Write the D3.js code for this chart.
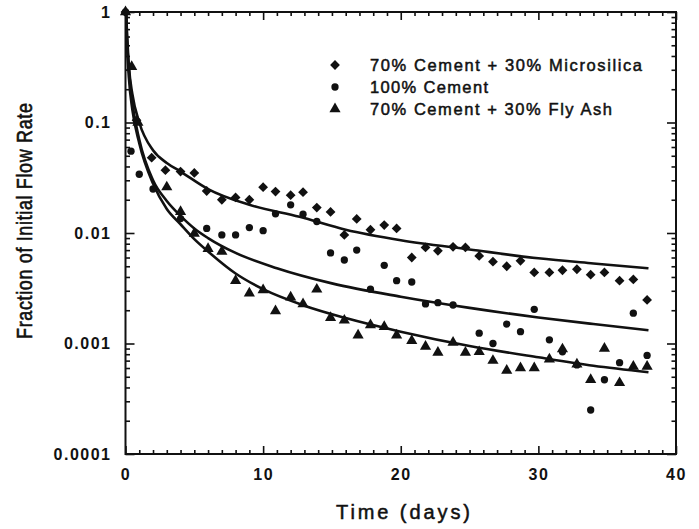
<!DOCTYPE html>
<html>
<head>
<meta charset="utf-8">
<script src="https://cdn.jsdelivr.net/npm/d3@7"></script>
<style>
  html, body { margin: 0; padding: 0; background: #fff; }
  svg { display: block; }
  text { font-family: "Liberation Sans", Arial, Helvetica, sans-serif; fill: #111; }
</style>
</head>
<body>
<svg id="chart" width="699" height="529"></svg>
<script>
// ---- Data ----
const seriesNames = ["70% Cement + 30% Microsilica", "100% Cement", "70% Cement + 30% Fly Ash"];

// 70% Cement + 30% Microsilica (diamonds)
const microsilicaT = [0, 0.8, 1.9, 2.9, 4, 5, 5.9, 7, 8, 9, 10, 10.9, 12, 12.9, 13.9, 14.9, 15.9, 16.8, 17.8, 18.8, 19.7, 20.8, 21.8, 22.7, 23.8, 24.7, 25.7, 26.7, 27.7, 28.7, 29.7, 30.8, 31.75, 32.8, 33.8, 34.8, 35.9, 36.9, 37.9];
const microsilicaV = [1, 0.105, 0.048, 0.037, 0.036, 0.035, 0.024, 0.020, 0.021, 0.020, 0.026, 0.0237, 0.022, 0.0234, 0.017, 0.0155, 0.0096, 0.0134, 0.0107, 0.0118, 0.011, 0.0060, 0.0074, 0.0069, 0.0075, 0.0074, 0.0062, 0.0055, 0.0050, 0.0056, 0.0044, 0.0044, 0.0046, 0.0047, 0.0042, 0.0044, 0.0037, 0.0038, 0.00248];

// 100% Cement (circles)
const cementT = [0, 0.4, 1, 2, 4, 5.9, 7, 8, 9, 10, 10.9, 12, 12.9, 13.9, 14.9, 15.9, 16.8, 17.8, 18.8, 19.7, 20.8, 21.8, 22.7, 23.8, 25.7, 26.7, 27.7, 28.7, 29.7, 30.8, 31.75, 32.8, 33.8, 34.8, 35.9, 36.9, 37.9];
const cementV = [1, 0.055, 0.034, 0.025, 0.0135, 0.011, 0.0096, 0.0096, 0.0112, 0.0105, 0.0149, 0.018, 0.0148, 0.0127, 0.0066, 0.0057, 0.0070, 0.0031, 0.0051, 0.0037, 0.0036, 0.00228, 0.00234, 0.00223, 0.00124, 0.00100, 0.00150, 0.00128, 0.00204, 0.00108, 0.00084, 0.00064, 0.00025, 0.00047, 0.00067, 0.00188, 0.00078];

// 70% Cement + 30% Fly Ash (triangles)
const flyAshT = [0, 0.45, 0.9, 3, 4, 5, 6, 7, 8, 9, 10, 10.9, 12, 12.9, 13.9, 14.9, 15.9, 16.9, 17.8, 18.8, 19.7, 20.8, 21.8, 22.7, 23.8, 24.7, 25.7, 26.7, 27.7, 28.7, 29.7, 30.8, 31.75, 32.8, 33.8, 34.8, 35.9, 36.9, 37.9];
const flyAshV = [1, 0.32, 0.1, 0.026, 0.0156, 0.0099, 0.0072, 0.0068, 0.0037, 0.00285, 0.00305, 0.00197, 0.00262, 0.00228, 0.00309, 0.00171, 0.00162, 0.00119, 0.00147, 0.00142, 0.00119, 0.00106, 0.00094, 0.00083, 0.00102, 0.00083, 0.00084, 0.00070, 0.00057, 0.00060, 0.00060, 0.00072, 0.00089, 0.00065, 0.00047, 0.00090, 0.00044, 0.00062, 0.00062];

// Fitted curves
const microsilicaFitT = [0.04, 0.1, 0.25, 0.5, 1, 2, 3, 4, 6, 9, 12.65, 16, 20, 25, 30, 34, 38];
const microsilicaFitV = [1, 0.69, 0.32, 0.18, 0.1, 0.056, 0.043, 0.036, 0.025, 0.018, 0.014, 0.0107, 0.0086, 0.0071, 0.0059, 0.0053, 0.0048];
const cementFitT = [0.04, 0.1, 0.25, 0.5, 1, 2, 3, 4, 5, 6, 8, 11, 15, 20, 25, 30, 34, 38];
const cementFitV = [1, 0.6, 0.3, 0.15, 0.07, 0.03, 0.0195, 0.0143, 0.011, 0.009, 0.0066, 0.0048, 0.0035, 0.00265, 0.0021, 0.00172, 0.0015, 0.00132];
const flyAshFitT = [0.04, 0.1, 0.25, 0.5, 1, 2, 3, 4, 5, 6, 8, 10, 13, 16, 20, 25, 30, 34, 38];
const flyAshFitV = [1, 0.55, 0.25, 0.13, 0.065, 0.028, 0.0165, 0.012, 0.0088, 0.0068, 0.0043, 0.0031, 0.0022, 0.0017, 0.00128, 0.00095, 0.00075, 0.00063, 0.00055];

// Axis ticks
const xMajorTicks = [0, 10, 20, 30, 40];
const xTickLabels = ["0", "10", "20", "30", "40"];
const yMajorTicks = [1, 0.1, 0.01, 0.001, 0.0001];
const yTickLabels = ["1", "0.1", "0.01", "0.001", "0.0001"];
const xTitle = "Time  (days)";
const yTitle = "Fraction of Initial Flow Rate";

// ---- Drawing ----
const ink = "#111";
const svg = d3.select("#chart");
const pLeft = 125.5, pRight = 676, pTop = 12, pBottom = 454;

const x = d3.scaleLinear().domain([0, 40]).range([pLeft, pRight]);
const y = d3.scaleLog().domain([0.0001, 1]).range([pBottom, pTop]);

const xMinor = d3.range(0, 41).filter(d => d % 10 !== 0);
const yMinor = [];
[-4, -3, -2, -1].forEach(e => { for (let m = 2; m <= 9; m++) yMinor.push(m * Math.pow(10, e)); });

function styleAxis(g) {
  g.select(".domain").remove();
  g.selectAll(".tick line").attr("stroke", ink).attr("stroke-width", 1.6);
}
function styleLabels(g) {
  g.selectAll("text").attr("font-size", 16).attr("font-weight", "bold")
    .attr("letter-spacing", 1.5).attr("fill", ink)
    .attr("font-family", "Liberation Sans, Arial, sans-serif");
}

// bottom
svg.append("g").attr("transform", `translate(0,${pBottom})`)
  .call(d3.axisBottom(x).tickValues(xMajorTicks).tickSize(-8).tickPadding(15)
    .tickFormat((d, i) => xTickLabels[i]))
  .call(styleAxis).call(styleLabels);
svg.append("g").attr("transform", `translate(0,${pBottom})`)
  .call(d3.axisBottom(x).tickValues(xMinor).tickSize(-4).tickFormat(""))
  .call(styleAxis);
// top
svg.append("g").attr("transform", `translate(0,${pTop})`)
  .call(d3.axisTop(x).tickValues(xMajorTicks).tickSize(-8).tickFormat(""))
  .call(styleAxis);
svg.append("g").attr("transform", `translate(0,${pTop})`)
  .call(d3.axisTop(x).tickValues(xMinor).tickSize(-4).tickFormat(""))
  .call(styleAxis);
// left
svg.append("g").attr("transform", `translate(${pLeft},0)`)
  .call(d3.axisLeft(y).tickValues(yMajorTicks).tickSize(-9).tickPadding(14)
    .tickFormat((d, i) => yTickLabels[i]))
  .call(styleAxis).call(styleLabels);
svg.append("g").attr("transform", `translate(${pLeft},0)`)
  .call(d3.axisLeft(y).tickValues(yMinor).tickSize(-4.5).tickFormat(""))
  .call(styleAxis);
// right
svg.append("g").attr("transform", `translate(${pRight},0)`)
  .call(d3.axisRight(y).tickValues(yMajorTicks).tickSize(-9).tickFormat(""))
  .call(styleAxis);
svg.append("g").attr("transform", `translate(${pRight},0)`)
  .call(d3.axisRight(y).tickValues(yMinor).tickSize(-4.5).tickFormat(""))
  .call(styleAxis);

// frame
svg.append("rect").attr("x", pLeft).attr("y", pTop)
  .attr("width", pRight - pLeft).attr("height", pBottom - pTop)
  .attr("fill", "none").attr("stroke", ink).attr("stroke-width", 2);

// fitted curves
const line = d3.line().x(d => x(d[0])).y(d => y(d[1])).curve(d3.curveMonotoneX);
const fits = [
  [microsilicaFitT, microsilicaFitV],
  [cementFitT, cementFitV],
  [flyAshFitT, flyAshFitV]
];
fits.forEach(([ts, vs]) => {
  const pts = [[0, 1]].concat(ts.map((t, i) => [t, vs[i]]));
  svg.append("path").datum(pts).attr("d", line)
    .attr("fill", "none").attr("stroke", ink).attr("stroke-width", 2.6)
    .attr("stroke-linejoin", "round");
});

// markers
const symDiamond = d3.symbol().type(d3.symbolSquare).size(48);
const symCircle = d3.symbol().type(d3.symbolCircle).size(42);
const symTriangle = d3.symbol().type(d3.symbolTriangle).size(54);

function drawSeries(ts, vs, sym, rotate) {
  svg.append("g").selectAll("path").data(ts.map((t, i) => [t, vs[i]])).join("path")
    .attr("d", sym)
    .attr("transform", d => `translate(${x(d[0])},${y(d[1])})` + (rotate ? " rotate(45)" : ""))
    .attr("fill", ink);
}
drawSeries(microsilicaT, microsilicaV, symDiamond, true);
drawSeries(cementT, cementV, symCircle, false);
drawSeries(flyAshT, flyAshV, symTriangle, false);

// legend
const legendRows = [
  { name: seriesNames[0], sym: symDiamond, rot: true, y: 65, len: 272 },
  { name: seriesNames[1], sym: symCircle, rot: false, y: 87, len: 118 },
  { name: seriesNames[2], sym: symTriangle, rot: false, y: 109, len: 242 }
];
const lg = svg.append("g");
legendRows.forEach(r => {
  lg.append("path").attr("d", r.sym)
    .attr("transform", `translate(335,${r.y})` + (r.rot ? " rotate(45)" : ""))
    .attr("fill", ink);
  lg.append("text").attr("x", 370).attr("y", r.y + 6)
    .attr("font-size", 16.5).attr("font-weight", "normal")
    .attr("stroke", ink).attr("stroke-width", 0.5)
    .attr("textLength", r.len).attr("lengthAdjust", "spacing")
    .text(r.name);
});

// axis titles
svg.append("text").attr("x", 403).attr("y", 519).attr("text-anchor", "middle")
  .attr("font-size", 20).attr("stroke", ink).attr("stroke-width", 0.5)
  .attr("textLength", 134).attr("lengthAdjust", "spacing")
  .text(xTitle);
svg.append("text").attr("transform", "translate(32,221) rotate(-90) scale(1,1.22)")
  .attr("text-anchor", "middle")
  .attr("font-size", 18).attr("stroke", ink).attr("stroke-width", 0.5)
  .attr("textLength", 236).attr("lengthAdjust", "spacing")
  .text(yTitle);
</script>
</body>
</html>
